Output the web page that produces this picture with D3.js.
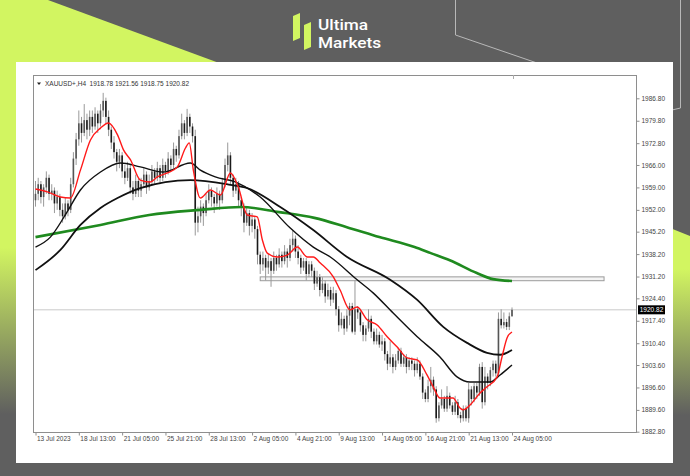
<!DOCTYPE html>
<html><head><meta charset="utf-8">
<script src="https://cdn.jsdelivr.net/npm/d3@7"></script>
<style>html,body{margin:0;padding:0;background:#5f5f5f;} svg{display:block}</style>
</head><body>
<svg id="c" width="690" height="476"></svg>
<script>
// ---------- DATA ----------
const symbolTitle = "XAUUSD+,H4  1918.78 1921.56 1918.75 1920.82";
const lastPrice = 1920.82;
const priceTicks = [1986.80,1979.80,1972.80,1966.00,1959.00,1952.00,1945.20,1938.20,1931.20,1924.40,1917.40,1910.40,1903.60,1896.60,1889.60,1882.80];
const dateIdx = [0,16,32,48,64,80,96,112,128,144,160,176];
const dateLabels = ["13 Jul 2023","18 Jul 13:00","21 Jul 05:00","25 Jul 21:00","28 Jul 13:00","2 Aug 05:00","4 Aug 21:00","9 Aug 13:00","14 Aug 05:00","16 Aug 21:00","21 Aug 13:00","24 Aug 05:00"];
// [open, high, low, close] per H4 bar
const candles = [
[1955,1961,1953,1957],[1957,1962,1955,1960],[1960,1961,1954,1956],[1956,1960,1953,1959],[1959,1964,1957,1962],
[1962,1963,1955,1957],[1957,1960,1955,1958],[1958,1959,1951,1954],[1954,1958,1952,1956],[1956,1957,1950,1952],
[1952,1954,1948,1950],[1950,1956,1949,1954],[1954,1955,1950,1952],[1952,1962,1951,1960],[1960,1970,1959,1968],
[1968,1976,1966,1974],[1974,1983,1972,1979],[1979,1981,1973,1976],[1976,1985,1975,1980],[1980,1982,1974,1977],
[1977,1983,1975,1981],[1981,1983,1976,1978],[1978,1984,1977,1982],[1982,1983,1976,1979],[1979,1985,1978,1983],
[1983,1988.5,1981,1986],[1986,1987,1979,1981],[1981,1983,1975,1977],[1977,1978,1971,1973],[1973,1975,1968,1970],
[1970,1971,1964,1967],[1967,1971,1965,1969],[1969,1970,1962,1964],[1964,1966,1960,1962],[1962,1967,1961,1965],
[1965,1966,1957,1959],[1959,1961,1955,1957],[1957,1963,1956,1961],[1961,1962,1956,1958],[1958,1962,1956,1960],
[1960,1965,1959,1963],[1963,1964,1957,1959],[1959,1963,1958,1961],[1961,1966,1960,1964],[1964,1965,1960,1962],
[1962,1967,1961,1965],[1965,1966,1960,1962],[1962,1968,1961,1966],[1966,1967,1962,1964],[1964,1970,1963,1968],
[1968,1969,1964,1966],[1966,1973,1965,1971],[1971,1972,1967,1969],[1969,1977,1968,1975],[1975,1982,1974,1979],
[1979,1980,1974,1976],[1976,1983.5,1975,1981],[1981,1982,1976,1978],[1978,1979,1973,1975],[1975,1977,1944,1948],
[1948,1953,1945,1950],[1950,1955,1948,1953],[1953,1954,1947,1951],[1951,1957,1950,1955],[1955,1960,1954,1958],
[1958,1959,1953,1956],[1956,1957,1951,1954],[1954,1959,1953,1957],[1957,1958,1952,1955],[1955,1962,1954,1960],
[1960,1968,1959,1966],[1966,1973,1964,1969],[1969,1970,1960,1962],[1962,1963,1956,1958],[1958,1962,1957,1960],
[1960,1961,1953,1955],[1955,1956,1950,1953],[1953,1954,1945,1948],[1948,1953,1947,1951],[1951,1952,1944,1947],
[1947,1951,1945,1949],[1949,1950,1943,1946],[1946,1947,1935,1938],[1938,1939,1932,1935],[1935,1939,1933,1937],
[1937,1938,1930,1934],[1934,1938,1932,1936],[1936,1937,1928,1933],[1933,1939,1932,1937],[1937,1938,1933,1935],
[1935,1940,1934,1938],[1938,1939,1934,1936],[1936,1941,1935,1939],[1939,1940,1934,1937],[1937,1943,1936,1941],
[1941,1945.5,1939,1943],[1943,1944,1937,1939],[1939,1941,1935,1937],[1937,1938,1932,1934],[1934,1937,1933,1936],
[1936,1937,1930,1932],[1932,1936,1931,1935],[1935,1936,1931,1933],[1933,1934,1927,1929],[1929,1933,1928,1931],
[1931,1932,1925,1927],[1927,1931,1926,1929],[1929,1930,1923,1925],[1925,1929,1924,1927],[1927,1928,1922,1924],
[1924,1928,1923,1926],[1926,1927,1919,1921],[1921,1922,1914,1916],[1916,1920,1915,1918],[1918,1919,1913,1915],
[1915,1921,1914,1919],[1919,1923,1916,1922],[1922,1923,1913.5,1914],[1914,1930,1913,1921],[1921,1922,1918,1920],
[1920,1921,1914,1916],[1916,1917,1911,1913],[1913,1916,1911,1915],[1915,1921,1914,1918],[1918,1919,1912,1914],
[1914,1915,1910,1911],[1911,1915,1910,1913],[1913,1914,1909,1910],[1910,1913,1908,1911],[1911,1912,1905,1907],
[1907,1908,1902,1904],[1904,1911,1903,1906],[1906,1907,1901,1903],[1903,1907,1902,1905],[1905,1909,1904,1908],
[1908,1909,1903,1904],[1904,1907,1903,1906],[1906,1907,1901,1903],[1903,1906,1902,1905],[1905,1906,1902,1904],
[1904,1905,1900,1902],[1902,1906,1901,1904],[1904,1905,1899,1900],[1900,1901,1893,1895],[1895,1896,1892,1893],
[1893,1899,1892,1897],[1897,1903,1895,1899],[1899,1900,1894,1896],[1896,1897,1885.6,1887],[1887,1892,1886,1891],
[1891,1896,1890,1893],[1893,1894,1889,1890],[1890,1897,1889,1894],[1894,1895,1890,1891],[1891,1892,1888,1889],
[1889,1894,1888,1892],[1892,1893,1887,1888],[1888,1889,1885.6,1887],[1887,1891,1886,1890],[1890,1891,1886,1887],
[1887,1898,1885.6,1896],[1896,1897,1891,1893],[1893,1898,1892,1897],[1897,1898,1893,1895],[1895,1904,1894,1903],
[1903,1904.5,1890,1892],[1892,1903,1891,1900],[1900,1901,1896,1898],[1898,1903,1897,1902],[1902,1905,1900,1904],
[1904,1905,1900,1901],[1901,1920,1900,1918],[1918,1921,1915,1916],[1916,1920,1915,1917],[1917,1918,1914.5,1915.5],
[1915.5,1920,1914.5,1918.8],[1918.78,1921.56,1918.75,1920.82]
];
// moving averages: [bar index, price]
const maRed = [[0,1958.5],[4.4,1957.6],[9.2,1956.0],[12.9,1955.7],[16.6,1964.4],[20.3,1973.8],[24,1977.5],[26.9,1979.1],[30.3,1975.4],[32.5,1970.7],[35.1,1967.6],[38.7,1961.3],[42.4,1960.7],[45,1962.3],[48.7,1963.5],[52.4,1965.4],[55.4,1971.3],[56.8,1972.9],[58.3,1964.4],[60.9,1955.7],[64.6,1958.2],[68.3,1956.6],[72,1963.5],[74.9,1959.1],[78.2,1950.4],[81.9,1949.8],[83.8,1942.6],[85.6,1938.5],[89.3,1937.3],[93,1937.9],[96.7,1940.4],[100.4,1937.3],[102.6,1937.3],[105.2,1935.4],[110,1931.1],[112.5,1927.0],[116.2,1920.8],[118.8,1921.7],[122.5,1917.7],[126.2,1916.1],[129.9,1912.4],[133.6,1909.2],[137.3,1905.8],[141,1905.2],[144.6,1900.5],[146.9,1896.8],[149.4,1893.3],[154.2,1893.3],[156.8,1890.2],[157.9,1889.6],[160.5,1891.1],[164.2,1894.9],[166.8,1896.8],[170.5,1899.9],[172.3,1906.1],[174.2,1912.1],[176,1913.9]];
const maBlackFast = [[0,1940.4],[5.5,1943.5],[11,1950.4],[16.6,1958.2],[24,1963.8],[31.4,1966.6],[38.7,1965.4],[47.2,1963.8],[57.2,1966.6],[60.9,1964.4],[66.4,1962.3],[73.8,1960.7],[83,1956.0],[94,1946.4],[102.6,1940.4],[108.9,1937.3],[118.8,1930.2],[124.7,1926.1],[132.1,1919.8],[141,1912.4],[149.4,1906.1],[155.7,1899.9],[160.5,1898.3],[167.9,1898.3],[171.6,1900.5],[176,1903.6]];
const maBlackSlow = [[0,1933.2],[9.2,1939.5],[16.6,1947.3],[24,1952.6],[30.3,1955.7],[38.7,1958.8],[57.2,1961.3],[72,1959.8],[78.2,1958.8],[90.4,1952.9],[102.6,1945.7],[115.1,1937.3],[131,1930.2],[141,1923.9],[150.6,1915.5],[159.4,1910.5],[166.8,1907.4],[171.6,1906.8],[176,1908.3]];
const maGreen = [[0,1943.5],[24,1947.3],[42,1950.4],[61,1952.0],[76,1952.9],[90,1951.3],[103,1949.5],[115,1946.6],[127,1943.5],[140,1940.4],[146,1938.5],[153,1936.3],[163,1932.3],[169,1930.4],[176,1929.8]];
const zoneBars = [83, 210];
const zonePrices = [1929.9, 1931.1];

// ---------- DRAW ----------
const svg = d3.select("#c");
const W = 690, H = 476;
const LIME = "#d2f561", GRAY = "#5f5f5f";
const defs = svg.append("defs");
const gl = defs.append("linearGradient").attr("id","gl").attr("x1",0).attr("y1",0).attr("x2",0).attr("y2",1);
gl.append("stop").attr("offset",0.52).attr("stop-color",LIME);
gl.append("stop").attr("offset",0.87).attr("stop-color",GRAY);
const gr = defs.append("linearGradient").attr("id","gr").attr("x1",0).attr("y1",0).attr("x2",0).attr("y2",1);
gr.append("stop").attr("offset",0.25).attr("stop-color",LIME);
gr.append("stop").attr("offset",0.78).attr("stop-color",GRAY);

svg.append("rect").attr("width",W).attr("height",H).attr("fill",GRAY);
svg.append("path").attr("d","M0,0 L48,0 L230,67 L230,476 L0,476 Z").attr("fill","url(#gl)");
svg.append("path").attr("d","M600,200 L690,236 L690,476 L600,476 Z").attr("fill","url(#gr)");
// decorative thin lines
svg.append("path").attr("d","M455.5,0 L455.5,35 L540,64").attr("fill","none").attr("stroke","#b8b8b8").attr("stroke-width",1);
svg.append("path").attr("d","M680.5,0 L680.5,108 L672,110").attr("fill","none").attr("stroke","#b8b8b8").attr("stroke-width",1);

// logo
svg.append("path").attr("d","M293,16 L300,13 L300,38 L293,41 Z").attr("fill",LIME);
svg.append("path").attr("d","M304,25 L311,22 L311,47 L304,50 Z").attr("fill",LIME);
const LOGOF = "Roboto, 'Noto Sans', sans-serif";
svg.append("text").attr("transform","translate(318,30) scale(1.15,1)").text("Ultima")
  .attr("font-family",LOGOF).attr("font-size",15).attr("font-weight",500).attr("fill","#fff");
svg.append("text").attr("transform","translate(318,48) scale(1.15,1)").text("Markets")
  .attr("font-family",LOGOF).attr("font-size",15).attr("font-weight",500).attr("fill","#fff");

// white panel
svg.append("rect").attr("x",16).attr("y",62).attr("width",657).attr("height",401).attr("fill","#fff");

const L = 33, R = 637, T = 75, B = 433;
const x = d3.scaleLinear().domain([0,176]).range([35.5,512]);
const y = d3.scaleLinear().domain([1882.8,1986.8]).range([431.7,98.3]);
const FONT = "'Liberation Sans', Arial, sans-serif";

defs.append("clipPath").attr("id","plot").append("rect").attr("x",L).attr("y",T).attr("width",R-L).attr("height",B-T);
const g = svg.append("g").attr("clip-path","url(#plot)");

// last price line
g.append("line").attr("x1",L).attr("x2",R).attr("y1",y(lastPrice)).attr("y2",y(lastPrice)).attr("stroke","#c9c9c9").attr("stroke-width",1);

// zone rectangle
g.append("rect").attr("x",x(zoneBars[0])).attr("y",y(zonePrices[1])).attr("width",x(zoneBars[1])-x(zoneBars[0]))
  .attr("height",y(zonePrices[0])-y(zonePrices[1])).attr("fill","#f4f4f4").attr("stroke","#9a9a9a").attr("stroke-width",1);

// candles
const cg = g.append("g");
cg.selectAll("line.w").data(candles).join("line").attr("class","w")
  .attr("x1",(d,i)=>x(i)).attr("x2",(d,i)=>x(i)).attr("y1",d=>y(d[1])).attr("y2",d=>y(d[2]))
  .attr("stroke","#999").attr("stroke-width",1);
cg.selectAll("rect.b").data(candles).join("rect").attr("class","b")
  .attr("x",(d,i)=>x(i)-0.8).attr("width",1.6)
  .attr("y",d=>y(Math.max(d[0],d[3])))
  .attr("height",d=>Math.max(1,Math.abs(y(d[0])-y(d[3]))))
  .attr("fill",d=>d[3]>=d[0]?"#555":"#1a1a1a");

// moving averages
const line = d3.line().x(d=>x(d[0])).y(d=>y(d[1])).curve(d3.curveMonotoneX);
g.append("path").attr("d",line(maGreen)).attr("fill","none").attr("stroke","#1f8a1f").attr("stroke-width",2.6);
g.append("path").attr("d",line(maBlackSlow)).attr("fill","none").attr("stroke","#111").attr("stroke-width",1.8);
g.append("path").attr("d",line(maBlackFast)).attr("fill","none").attr("stroke","#111").attr("stroke-width",1.4);
g.append("path").attr("d",line(maRed)).attr("fill","none").attr("stroke","#ff1a1a").attr("stroke-width",1.4);

// frame
svg.append("rect").attr("x",L+0.5).attr("y",T+0.5).attr("width",R-L-1).attr("height",B-T-1)
  .attr("fill","none").attr("stroke","#8e8e8e").attr("stroke-width",1);
svg.append("line").attr("x1",513.5).attr("x2",513.5).attr("y1",T).attr("y2",T+4).attr("stroke","#aaa");

// title
svg.append("path").attr("d","M37,82.5 L41,82.5 L39,85 Z").attr("fill","#222");
svg.append("text").attr("x",45).attr("y",86).text(symbolTitle).attr("xml:space","preserve")
  .attr("font-family",FONT).attr("font-size",6.5).attr("fill","#333");

// y axis
const ya = svg.append("g").attr("transform",`translate(${R-0.5},0)`)
  .call(d3.axisRight(y).tickValues(priceTicks).tickSize(3).tickPadding(2).tickFormat(d=>d.toFixed(2)));
ya.select(".domain").remove();
ya.selectAll("line").attr("stroke","#8e8e8e");
ya.selectAll("text").attr("font-family",FONT).attr("font-size",6.5).attr("fill","#444");

// x axis
const xa = svg.append("g").attr("transform",`translate(0,${B-0.5})`)
  .call(d3.axisBottom(x).tickValues(dateIdx).tickSize(3).tickFormat((d,i)=>dateLabels[i]));
xa.select(".domain").remove();
xa.selectAll("line").attr("stroke","#8e8e8e");
xa.selectAll("text").attr("text-anchor","start").attr("x",1).attr("y",4)
  .attr("font-family",FONT).attr("font-size",6.5).attr("fill","#444");

// price label
const pl = svg.append("g").attr("transform",`translate(638,${y(lastPrice)})`);
pl.append("rect").attr("x",0).attr("y",-4.5).attr("width",27).attr("height",9).attr("fill","#000");
pl.append("text").attr("x",13.5).attr("y",2.3).attr("text-anchor","middle").text(lastPrice.toFixed(2))
  .attr("font-family",FONT).attr("font-size",6.5).attr("fill","#fff");
</script>
</body></html>
